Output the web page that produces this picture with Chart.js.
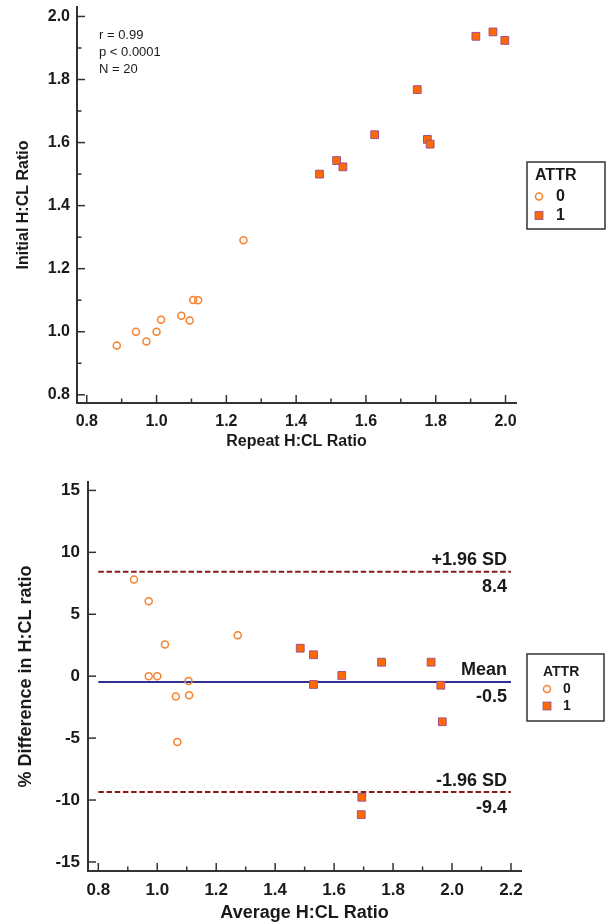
<!DOCTYPE html>
<html>
<head>
<meta charset="utf-8">
<script src="https://cdn.jsdelivr.net/npm/chart.js"></script>
<style>
  body { margin: 0; background: #fff; }
  canvas { display: block; }
</style>
</head>
<body>
<canvas id="plot-agreement" width="607" height="462"></canvas>
<canvas id="plot-difference" width="607" height="462"></canvas>
<script>
// top panel: repeat vs initial H:CL ratio
const repeat0 = [0.886, 0.941, 0.971, 1.0, 1.013, 1.071, 1.095, 1.105, 1.119, 1.249];
const initial0 = [0.956, 1.0, 0.969, 1.0, 1.038, 1.051, 1.036, 1.101, 1.1, 1.29];
const repeat1 = [1.467, 1.516, 1.534, 1.625, 1.747, 1.776, 1.784, 1.915, 1.964, 1.998];
const initial1 = [1.5, 1.543, 1.523, 1.625, 1.768, 1.61, 1.595, 1.937, 1.951, 1.924];

// bottom panel: average vs % difference
const average0 = [0.921, 0.971, 1.026, 0.971, 1.0, 1.106, 1.273, 1.063, 1.108, 1.068];
const diff0 = [7.8, 6.05, 2.56, 0.0, 0.0, -0.38, 3.3, -1.64, -1.53, -5.32];
const average1 = [1.485, 1.53, 1.53, 1.626, 1.761, 1.929, 1.962, 1.967, 1.694, 1.692];
const diff1 = [2.26, 1.73, -0.67, 0.06, 1.13, 1.13, -0.73, -3.68, -9.78, -11.18];

const limitNames = ["+1.96 SD", "Mean", "-1.96 SD"];
const limitValues = [8.44, -0.46, -9.36];

const ratioTicks = [0.8, 1.0, 1.2, 1.4, 1.6, 1.8, 2.0];
const ratioMinor = [0.9, 1.1, 1.3, 1.5, 1.7, 1.9];
const avgTicks = [0.8, 1.0, 1.2, 1.4, 1.6, 1.8, 2.0, 2.2];
const avgMinor = [0.9, 1.1, 1.3, 1.5, 1.7, 1.9, 2.1];
const diffTicks = [-15, -10, -5, 0, 5, 10, 15];

const groupTitle = "ATTR";
const groups = ["0", "1"];
const stats = ["r = 0.99", "p < 0.0001", "N = 20"];

const FONT = "'Liberation Sans', Arial, sans-serif";
const INK = "#1a1a1a";
const AXIS = "#333333";
const ORANGE = "#f5822f";
const SQ_FILL = "#ff6a00";
const SQ_EDGE = "#a0508f";

Chart.defaults.font.family = FONT;
Chart.defaults.color = INK;

const pts = (xs, ys) => xs.map((x, i) => ({ x: x, y: ys[i] }));

function circleSet(label, data) {
  return {
    label: label, data: data, pointStyle: "circle", pointRadius: 3.5, pointHoverRadius: 3.5,
    pointBorderWidth: 1.5, borderColor: ORANGE, backgroundColor: "rgba(255,255,255,0)",
  };
}
function squareSet(label, data) {
  return {
    label: label, data: data, pointStyle: "rect", pointRadius: 5.5, pointHoverRadius: 5.5,
    pointBorderWidth: 1, borderColor: SQ_EDGE, backgroundColor: SQ_FILL,
  };
}

// ticks pointing into the plot, like the original
const innerTicks = {
  id: "innerTicks",
  afterDraw(chart, args, opts) {
    const ctx = chart.ctx;
    const area = chart.chartArea;
    ctx.save();
    ctx.strokeStyle = AXIS;
    ctx.lineWidth = 1.5;
    const mark = (scale, values, len) => values.forEach((v) => {
      const p = scale.getPixelForValue(v);
      ctx.beginPath();
      if (scale.isHorizontal()) {
        ctx.moveTo(p, area.bottom);
        ctx.lineTo(p, area.bottom - len);
      } else {
        ctx.moveTo(area.left, p);
        ctx.lineTo(area.left + len, p);
      }
      ctx.stroke();
    });
    mark(chart.scales.x, opts.xMajor, 8);
    mark(chart.scales.x, opts.xMinor, 4.5);
    mark(chart.scales.y, opts.yMajor, 8);
    mark(chart.scales.y, opts.yMinor, 4.5);
    ctx.restore();
  },
};

// boxed legend at the right of the plot
const boxLegend = {
  id: "boxLegend",
  afterDraw(chart, args, opts) {
    const ctx = chart.ctx;
    const b = opts.box;
    const font = "bold " + opts.size + "px " + FONT;
    ctx.save();
    ctx.strokeStyle = AXIS;
    ctx.lineWidth = 1.5;
    ctx.strokeRect(b.left, b.top, b.width, b.height);
    ctx.fillStyle = INK;
    ctx.textBaseline = "middle";
    ctx.textAlign = "left";
    ctx.font = font;
    ctx.fillText(groupTitle, b.left + opts.titleX, b.top + opts.titleY);
    groups.forEach((g, i) => {
      const y = b.top + opts.rowY[i];
      const cx = b.left + opts.markX;
      if (i === 0) {
        ctx.beginPath();
        ctx.arc(cx, y, 3.5, 0, Math.PI * 2);
        ctx.strokeStyle = ORANGE;
        ctx.lineWidth = 1.5;
        ctx.stroke();
      } else {
        ctx.fillStyle = SQ_FILL;
        ctx.fillRect(cx - 3.9, y - 3.9, 7.8, 7.8);
        ctx.strokeStyle = SQ_EDGE;
        ctx.lineWidth = 1;
        ctx.strokeRect(cx - 3.9, y - 3.9, 7.8, 7.8);
      }
      ctx.fillStyle = INK;
      ctx.font = font;
      ctx.fillText(g, b.left + opts.textX, y);
    });
    ctx.restore();
  },
};

// free text: statistics block and limit labels
const notes = {
  id: "notes",
  afterDraw(chart, args, opts) {
    const ctx = chart.ctx;
    const area = chart.chartArea;
    ctx.save();
    ctx.fillStyle = INK;
    ctx.textBaseline = "middle";
    if (opts.stats) {
      ctx.font = "13px " + FONT;
      ctx.textAlign = "left";
      opts.stats.forEach((s, i) => ctx.fillText(s, area.left + 22, area.top + 28 + i * 17));
    }
    if (opts.limits) {
      ctx.font = "bold 18px " + FONT;
      ctx.textAlign = "right";
      limitValues.forEach((v, i) => {
        const py = chart.scales.y.getPixelForValue(v);
        const x = area.right - 14;
        ctx.fillText(limitNames[i], x, py - 11.5);
        ctx.fillText(v.toFixed(1), x, py + 15.5);
      });
    }
    ctx.restore();
  },
};

function axis(opts) {
  return {
    type: "linear",
    min: opts.min,
    max: opts.max,
    afterBuildTicks: (s) => { s.ticks = opts.ticks.map((v) => ({ value: v })); },
    afterFit: opts.fit,
    ticks: {
      padding: opts.pad,
      font: { size: opts.tickSize, weight: "bold" },
      color: INK,
      callback: opts.format,
    },
    grid: { display: false, drawTicks: false },
    border: { display: true, color: AXIS, width: 2 },
    title: {
      display: true,
      text: opts.title,
      color: INK,
      font: { size: opts.titleSize, weight: "bold" },
      padding: opts.titlePad,
    },
  };
}

function makeAgreementChart() {
  const canvas = document.getElementById("plot-agreement");
  new Chart(canvas, {
    type: "scatter",
    data: {
      datasets: [
        circleSet("0", pts(repeat0, initial0)),
        squareSet("1", pts(repeat1, initial1)),
      ],
    },
    options: {
      responsive: false,
      animation: false,
      layout: { padding: { top: 7, right: 91, left: 0, bottom: 0 } },
      plugins: {
        legend: { display: false },
        tooltip: { enabled: false },
        innerTicks: { xMajor: ratioTicks, xMinor: ratioMinor, yMajor: ratioTicks, yMinor: ratioMinor },
        boxLegend: {
          box: { left: 527, top: 162, width: 78, height: 67 }, size: 16,
          titleX: 8, titleY: 14, markX: 12, textX: 29, rowY: [34.5, 53.5],
        },
        notes: { stats: stats },
      },
      scales: {
        x: axis({
          min: 0.772, max: 2.03, ticks: ratioTicks, pad: 9, tickSize: 16, format: (v) => v.toFixed(1),
          title: "Repeat H:CL Ratio", titleSize: 16, titlePad: { top: 0, bottom: 11 },
          fit: (s) => { s.height = 59; s.paddingLeft = 0; s.paddingRight = 0; },
        }),
        y: axis({
          min: 0.774, max: 2.03, ticks: ratioTicks, pad: 7, tickSize: 16, format: (v) => v.toFixed(1),
          title: "Initial H:CL Ratio", titleSize: 16, titlePad: { top: 13.5, bottom: 0 },
          fit: (s) => { s.width = 77; s.paddingTop = 0; s.paddingBottom = 0; },
        }),
      },
    },
    plugins: [innerTicks, boxLegend, notes],
  });
}

function makeDifferenceChart() {
  const canvas = document.getElementById("plot-difference");
  const lineStyle = [
    { color: "#8b1a1a", dash: [5.5, 2.7] },
    { color: "#2e3192", dash: [] },
    { color: "#8b1a1a", dash: [5.5, 2.7] },
  ];
  const limitSets = limitValues.map((v, i) => ({
    label: limitNames[i],
    data: [{ x: avgTicks[0], y: v }, { x: avgTicks[avgTicks.length - 1], y: v }],
    showLine: true,
    pointRadius: 0,
    pointHoverRadius: 0,
    borderWidth: 2,
    borderColor: lineStyle[i].color,
    borderDash: lineStyle[i].dash,
    order: 2,
  }));
  new Chart(canvas, {
    type: "scatter",
    data: {
      datasets: limitSets.concat([
        Object.assign(circleSet("0", pts(average0, diff0)), { order: 1 }),
        Object.assign(squareSet("1", pts(average1, diff1)), { order: 0 }),
      ]),
    },
    options: {
      responsive: false,
      animation: false,
      layout: { padding: { top: 20, right: 86, left: 0, bottom: 0 } },
      plugins: {
        legend: { display: false },
        tooltip: { enabled: false },
        innerTicks: { xMajor: avgTicks, xMinor: avgMinor, yMajor: diffTicks, yMinor: [] },
        boxLegend: {
          box: { left: 527, top: 192, width: 77, height: 67 }, size: 14,
          titleX: 16, titleY: 18, markX: 20, textX: 36, rowY: [35, 52],
        },
        notes: { limits: true },
      },
      scales: {
        x: axis({
          min: 0.765, max: 2.234, ticks: avgTicks, pad: 9, tickSize: 17, format: (v) => v.toFixed(1),
          title: "Average H:CL Ratio", titleSize: 18, titlePad: { top: 0, bottom: 0 },
          fit: (s) => { s.height = 53; s.paddingLeft = 0; s.paddingRight = 0; },
        }),
        y: axis({
          min: -15.73, max: 15.68, ticks: diffTicks, pad: 8, tickSize: 17, format: (v) => String(v),
          title: "% Difference in H:CL ratio", titleSize: 18, titlePad: { top: 15, bottom: 0 },
          fit: (s) => { s.width = 88; s.paddingTop = 0; s.paddingBottom = 0; },
        }),
      },
    },
    plugins: [innerTicks, boxLegend, notes],
  });
}

makeAgreementChart();
makeDifferenceChart();
</script>
</body>
</html>
